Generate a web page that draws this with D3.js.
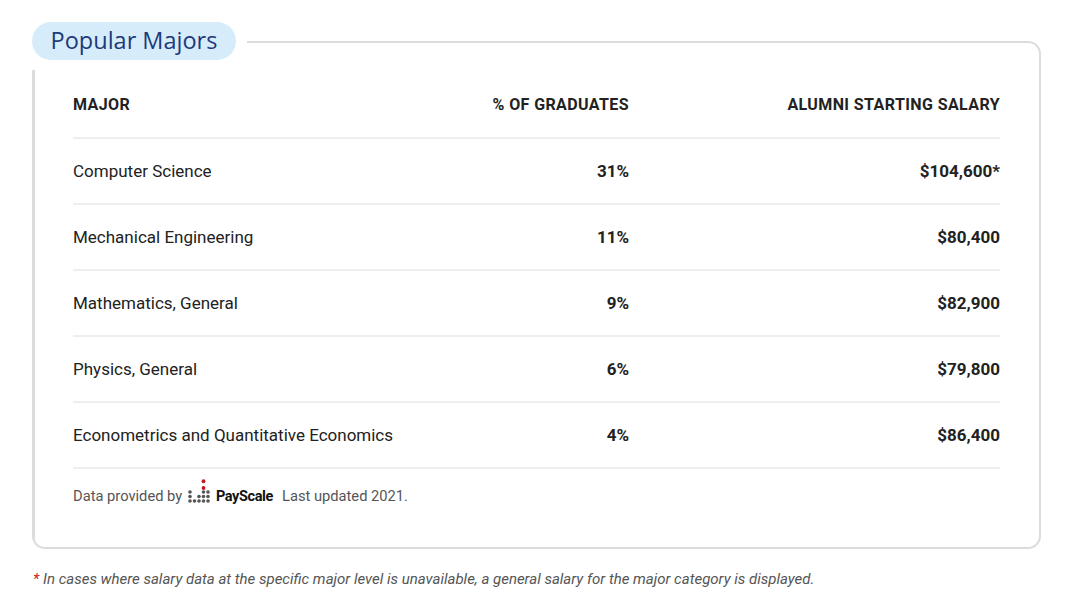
<!DOCTYPE html>
<html>
<head>
<meta charset="utf-8">
<script src="https://cdn.jsdelivr.net/npm/d3@7"></script>
<style>
  body { margin: 0; background: #fff; }
  svg { display: block; font-family: Roboto, sans-serif; }
</style>
</head>
<body>
<svg id="chart" width="1080" height="597"></svg>
<script>
// Table data
let majors = ["Computer Science", "Mechanical Engineering", "Mathematics, General", "Physics, General", "Econometrics and Quantitative Economics"];
let gradShare = [31, 11, 9, 6, 4];
let salaries = ["$104,600*", "$80,400", "$82,900", "$79,800", "$86,400"];
let headers = ["MAJOR", "% OF GRADUATES", "ALUMNI STARTING SALARY"];

let svg = d3.select("#chart");

// card outline
svg.append("rect")
  .attr("x", 33).attr("y", 42).attr("width", 1007).attr("height", 506)
  .attr("rx", 12).attr("fill", "#fff").attr("stroke", "#dcdcdc").attr("stroke-width", 2);
// hide top-left part of border behind the pill
svg.append("rect").attr("x", 25).attr("y", 30).attr("width", 222).attr("height", 40).attr("fill", "#fff");
svg.append("line").attr("x1", 34).attr("x2", 34).attr("y1", 70).attr("y2", 540)
  .attr("stroke", "#dcdcdc").attr("stroke-width", 2);

// title pill
svg.append("rect").attr("x", 32).attr("y", 22).attr("width", 204).attr("height", 38)
  .attr("rx", 19).attr("fill", "#d7ecfb");
svg.append("text").attr("x", 134).attr("y", 49).attr("text-anchor", "middle")
  .attr("font-family", "'Open Sans', sans-serif").attr("font-size", 23.5)
  .attr("fill", "#1c3a7c").text("Popular Majors");

// row positions
let rowY = d3.scaleBand().domain(d3.range(majors.length)).range([138, 468]);
let cols = [{x: 73, anchor: "start"}, {x: 629, anchor: "end"}, {x: 1000, anchor: "end"}];

headers.forEach((h, i) => {
  svg.append("text").attr("x", cols[i].x).attr("y", 110)
    .attr("text-anchor", cols[i].anchor).attr("font-size", 16).attr("font-weight", 700)
    .attr("letter-spacing", 0.4).attr("fill", "#222").text(h);
});

svg.append("line").attr("x1", 73).attr("x2", 1000).attr("y1", 138).attr("y2", 138)
  .attr("stroke", "#dedede");

let rows = svg.selectAll("g.row").data(majors).join("g")
  .attr("class", "row")
  .attr("transform", (d, i) => `translate(0,${rowY(i)})`);

rows.append("line").attr("x1", 73).attr("x2", 1000)
  .attr("y1", rowY.bandwidth()).attr("y2", rowY.bandwidth()).attr("stroke", "#dedede");
rows.append("text").attr("x", 73).attr("y", rowY.bandwidth() / 2 + 6)
  .attr("font-size", 17).attr("fill", "#222").text(d => d);
rows.append("text").attr("x", 629).attr("y", rowY.bandwidth() / 2 + 6)
  .attr("text-anchor", "end").attr("font-size", 17).attr("font-weight", 700)
  .attr("fill", "#222").text((d, i) => gradShare[i] + "%");
rows.append("text").attr("x", 1000).attr("y", rowY.bandwidth() / 2 + 6)
  .attr("text-anchor", "end").attr("font-size", 17).attr("font-weight", 700)
  .attr("fill", "#222").text((d, i) => salaries[i]);

// footer with logo
svg.append("text").attr("x", 73).attr("y", 501).attr("font-size", 14.7)
  .attr("fill", "#555").text("Data provided by");
let logo = svg.append("g").attr("transform", "translate(190,492)");
let dots = [[0,0],[0,1],[0,2],[1,2],[2,1],[2,2],[3,0],[3,1],[3,2],[4,0],[4,1],[4,2]];
dots.forEach(([c, r]) => logo.append("circle").attr("cx", c * 4.5).attr("cy", r * 4.5).attr("r", 1.8).attr("fill", "#555"));
[-1, -2.5].forEach(r => logo.append("circle").attr("cx", 18 - 4.5).attr("cy", r * 4.5 + 0.5).attr("r", 1.9).attr("fill", "#c8161d"));
svg.append("text").attr("x", 216).attr("y", 501).attr("font-size", 14.5).attr("font-weight", 700)
  .attr("fill", "#111").attr("letter-spacing", -0.4).text("PayScale");
svg.append("text").attr("x", 282).attr("y", 501).attr("font-size", 14.7)
  .attr("fill", "#555").text("Last updated 2021.");

// footnote
let note = svg.append("text").attr("x", 33).attr("y", 584).attr("font-size", 15)
  .attr("font-style", "italic").attr("fill", "#555");
note.append("tspan").attr("fill", "#d0202a").text("* ");
note.append("tspan").text("In cases where salary data at the specific major level is unavailable, a general salary for the major category is displayed.");
</script>
</body>
</html>
